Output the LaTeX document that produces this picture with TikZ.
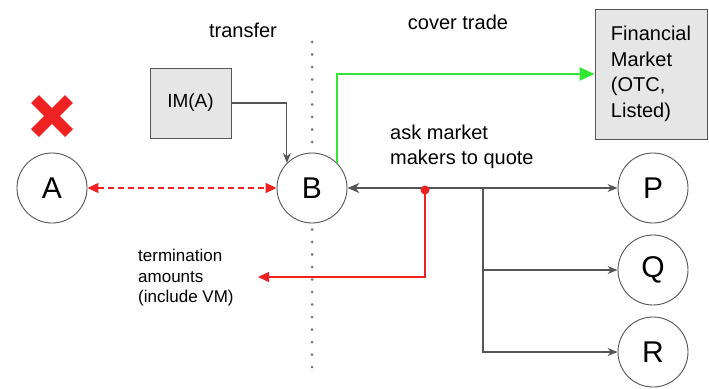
\documentclass[tikz,border=0pt]{standalone}
\usepackage{fontspec}
\setmainfont{Liberation Sans}
\usetikzlibrary{arrows.meta}
\definecolor{lgray}{HTML}{555555}
\definecolor{xred}{HTML}{EE2222}
\definecolor{xgreen}{HTML}{33E633}
\definecolor{boxfill}{HTML}{E6E6E6}
\tikzset{
  party/.style={circle, draw=lgray, line width=0.9pt, fill=white, minimum size=70pt, inner sep=0pt, font=\fontsize{30}{30}\selectfont},
  graybox/.style={rectangle, draw=lgray, line width=0.9pt, fill=boxfill, inner sep=0pt},
  lbl/.style={inner sep=0pt, font=\fontsize{20}{25}\selectfont, align=left},
  flow/.style={draw=lgray, line width=1.1pt, -{Stealth[length=10pt, width=8pt]}},
}
\begin{document}
\begin{tikzpicture}[x=1pt, y=-1pt]
\useasboundingbox (0,0) rectangle (709,388);
% dotted divider
\coordinate (dtop) at (312,42);
\coordinate (dbot) at (312,378);
\draw[lgray!80, line width=3pt, line cap=round, dash pattern=on 0pt off 12.5pt] (dtop) -- (dbot);
% parties
\node[party] (A) at (52,188) {A};
\node[party] (B) at (312,188) {B};
\node[party] (P) at (653,188) {P};
\node[party] (Q) at (653,270) {Q};
\node[party] (R) at (653,352) {R};
% boxes
\node[graybox, minimum width=81pt, minimum height=70pt, font=\fontsize{19}{19}\selectfont] (IM) at (190.5,103) {IM(A)};
\node[graybox, minimum width=112pt, minimum height=130pt, font=\fontsize{20}{25.5}\selectfont, align=left] (FM) at (651,74) {Financial\\Market\\(OTC,\\Listed)};
% labels
\node[lbl] (transfer) at (243,30) {transfer};
\node[lbl] (cover) at (458,22) {cover trade};
\node[lbl, anchor=west] (ask) at (390,147) {ask market\\makers to quote};
\node[inner sep=0pt, font=\fontsize{17}{20.5}\selectfont, align=left, anchor=west] (term) at (138,278) {termination\\amounts\\(include VM)};
% red cross
\coordinate (x1) at (35,99);
\coordinate (x2) at (69,133);
\coordinate (x3) at (69,99);
\coordinate (x4) at (35,133);
\draw[xred, line width=11pt] (x1) -- (x2);
\draw[xred, line width=11pt] (x3) -- (x4);
% A <-> B dashed
\draw[xred, line width=1.3pt, dash pattern=on 6pt off 4pt, {Triangle[length=11pt, width=10pt]}-{Triangle[length=11pt, width=10pt]}] (A) -- (B);
% IM -> B
\draw[flow] (IM.east) -| (B.135);
% green cover trade
\draw[xgreen, line width=2.4pt, -{Triangle[length=15pt, width=13pt]}] (B.45) |- (FM.west);
% B <-> P
\draw[lgray, line width=1.3pt, {Stealth[length=12pt, width=10pt]}-{Stealth[length=10pt, width=8pt]}] (B) -- (P);
\coordinate (J) at (483,188);
\draw[flow] (J) |- (Q.west);
\draw[flow] (J) |- (R.west);
% red termination
\coordinate (D) at (425,190);
\coordinate (T) at (258,277);
\draw[xred, line width=1.4pt, -{Triangle[length=11pt, width=10pt]}] (D) |- (T);
\fill[xred] (D) circle (4.5pt);
\end{tikzpicture}
\end{document}
